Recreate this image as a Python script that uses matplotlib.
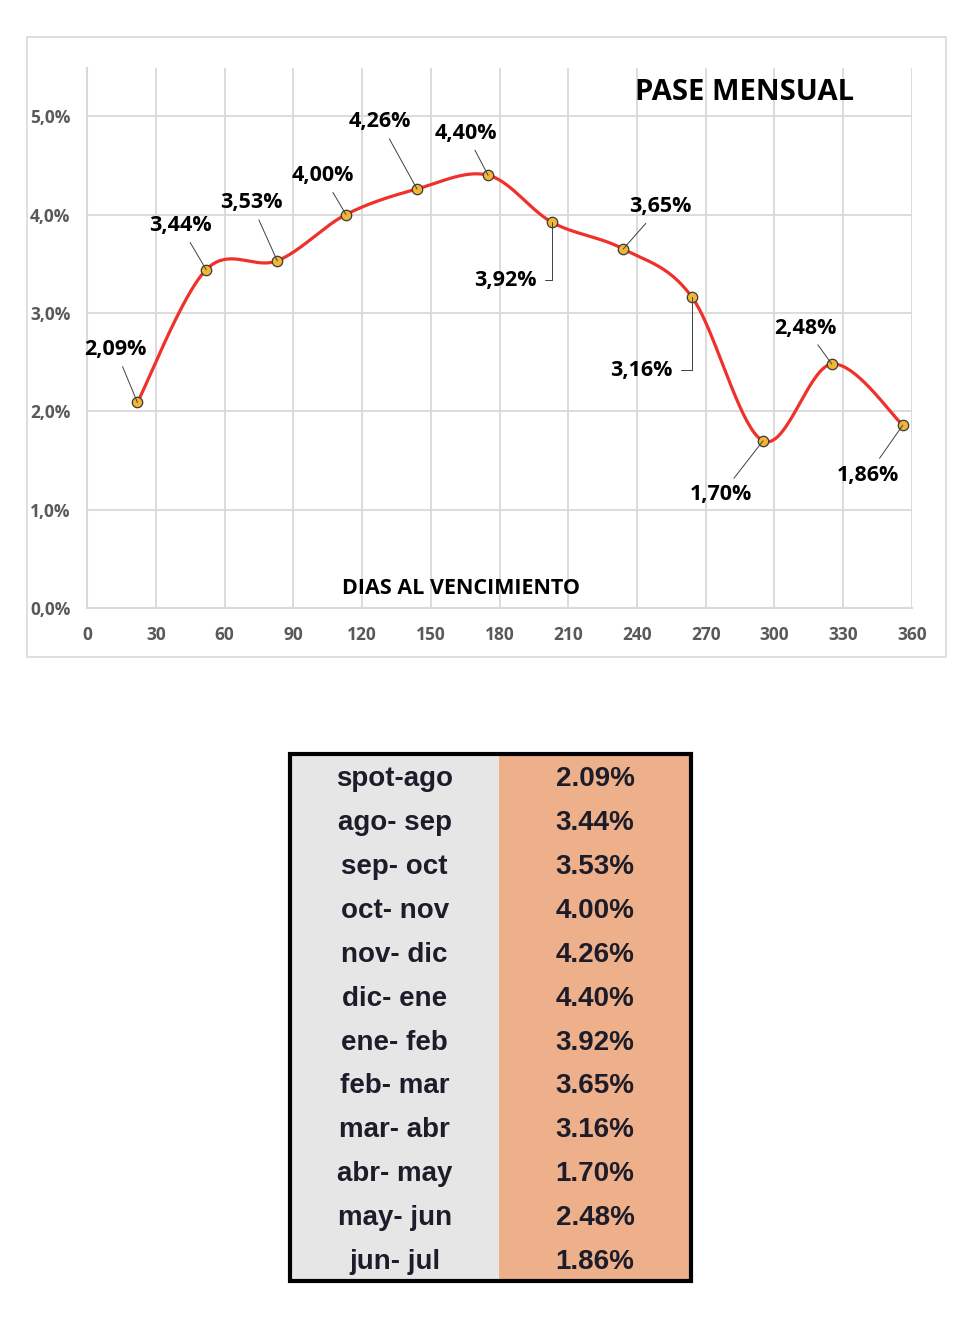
import matplotlib
matplotlib.use('Agg')
import matplotlib.pyplot as plt
import numpy as np
from matplotlib.patches import Rectangle
from matplotlib.ticker import FuncFormatter

# Datos del grafico
dias = [22, 52, 83, 113, 144, 175, 203, 234, 264, 295, 325, 356]
pase = [2.09, 3.44, 3.53, 4.00, 4.26, 4.40, 3.92, 3.65, 3.16, 1.70, 2.48, 1.86]
periodos = ['spot-ago', 'ago- sep', 'sep- oct', 'oct- nov', 'nov- dic', 'dic- ene',
            'ene- feb', 'feb- mar', 'mar- abr', 'abr- may', 'may- jun', 'jun- jul']

# desplazamiento de cada etiqueta respecto al punto (pixeles) y si lleva codo
label_offsets = [(-22, 53), (-26, 44), (-26, 58), (-23, 39), (-37, 67), (-22, 42),
                 (-47, -58), (37, 42), (-51, -73), (-42, -54), (-26, 36), (-35, -50)]
elbow = [False] * 6 + [True, False, True] + [False] * 3

CHART_FONT = ['Open Sans', 'DejaVu Sans']
TABLE_FONT = ['Liberation Sans', 'DejaVu Sans']
GRID = '#D9D9D9'


def smooth_curve(xs, ys, n=40):
    """Curva suavizada tipo Excel (Catmull-Rom con Bezier)"""
    p = np.column_stack([xs, ys]).astype(float)
    out = []
    for i in range(len(p) - 1):
        p0 = p[i - 1] if i > 0 else p[i]
        p1, p2 = p[i], p[i + 1]
        p3 = p[i + 2] if i + 2 < len(p) else p[i + 1]
        c1 = p1 + (p2 - p0) / 6
        c2 = p2 - (p3 - p1) / 6
        t = np.linspace(0, 1, n)[:, None]
        seg = (1 - t) ** 3 * p1 + 3 * (1 - t) ** 2 * t * c1 + 3 * (1 - t) * t ** 2 * c2 + t ** 3 * p2
        out.append(seg if i == 0 else seg[1:])
    out = np.vstack(out)
    return out[:, 0], out[:, 1]


fig = plt.figure(figsize=(9.8, 13.17), dpi=100)

# Marco del grafico
fig.patches.append(Rectangle((0.0276, 0.5011), 0.9377, 0.4708, transform=fig.transFigure,
                             fill=False, edgecolor=GRID, linewidth=1.2))

ax = fig.add_axes([0.0888, 0.5383, 0.8418, 0.4101])
sx, sy = smooth_curve(dias, pase)
ax.plot(sx, sy, color='#F0302A', linewidth=2.3, zorder=3)
ax.plot(dias, pase, linestyle='none', marker='o', markersize=7.5,
        markerfacecolor='#F2B534', markeredgecolor='#3A3A3A', markeredgewidth=0.9, zorder=4)

for x, y, (dx, dy), el in zip(dias, pase, label_offsets, elbow):
    txt = f'{y:.2f}%'.replace('.', ',')
    if el:
        arrow = dict(arrowstyle='-', color='#404040', lw=0.7, relpos=(1, 0.5),
                     connectionstyle='angle,angleA=0,angleB=90,rad=0', shrinkA=4, shrinkB=0)
    else:
        arrow = dict(arrowstyle='-', color='#404040', lw=0.7, shrinkA=3, shrinkB=0)
    ax.annotate(txt, xy=(x, y), xytext=(dx, dy), textcoords='offset pixels',
                ha='center', va='center', fontsize=15.5, fontweight='bold',
                family=CHART_FONT, arrowprops=arrow, zorder=5)

ax.set_xlim(0, 360)
ax.set_ylim(0, 5.49)
ax.set_xticks(np.arange(0, 361, 30))
ax.set_yticks(np.arange(0, 5.01, 1.0))
ax.yaxis.set_major_formatter(FuncFormatter(lambda v, p: f'{v:.1f}%'.replace('.', ',')))
ax.grid(True, color=GRID, linewidth=1.3)
ax.set_axisbelow(True)
for s in ['top', 'right']:
    ax.spines[s].set_visible(False)
for s in ['left', 'bottom']:
    ax.spines[s].set_color(GRID)
    ax.spines[s].set_linewidth(1.5)
ax.tick_params(length=0, labelcolor='#595959', labelsize=12.5)
ax.tick_params(axis='y', pad=12)
ax.tick_params(axis='x', pad=13)
for lbl in ax.get_xticklabels() + ax.get_yticklabels():
    lbl.set_fontweight('bold')
    lbl.set_family(CHART_FONT)

ax.text(0.797, 0.955, 'PASE MENSUAL', transform=ax.transAxes, ha='center', va='center',
        fontsize=21, fontweight='bold', family=CHART_FONT)
ax.text(0.453, 0.037, 'DIAS AL VENCIMIENTO', transform=ax.transAxes, ha='center', va='center',
        fontsize=15.5, fontweight='bold', family=CHART_FONT)

# Tabla con los valores
tax = fig.add_axes([0.2959, 0.0273, 0.4092, 0.4001])
tax.axis('off')
cells = [[p, f'{v:.2f}%'] for p, v in zip(periodos, pase)]
colors = [['#E6E6E6', '#EDB08A'] for _ in periodos]
table = tax.table(cellText=cells, cellColours=colors, bbox=[0, 0, 1, 1],
                  colWidths=[0.522, 0.478], cellLoc='center')
table.auto_set_font_size(False)
for (r, c), cell in table.get_celld().items():
    cell.set_edgecolor(colors[r][c])
    cell.set_linewidth(0)
    t = cell.get_text()
    t.set_fontsize(20)
    t.set_fontweight('bold')
    t.set_family(TABLE_FONT)
    t.set_color('#1C1C2A')
    t.set_verticalalignment('center_baseline')
tax.add_patch(Rectangle((0, 0), 1, 1, transform=tax.transAxes, fill=False,
                        edgecolor='black', linewidth=3, clip_on=False, zorder=5))

plt.savefig('out.png', dpi=100)
plt.close()
